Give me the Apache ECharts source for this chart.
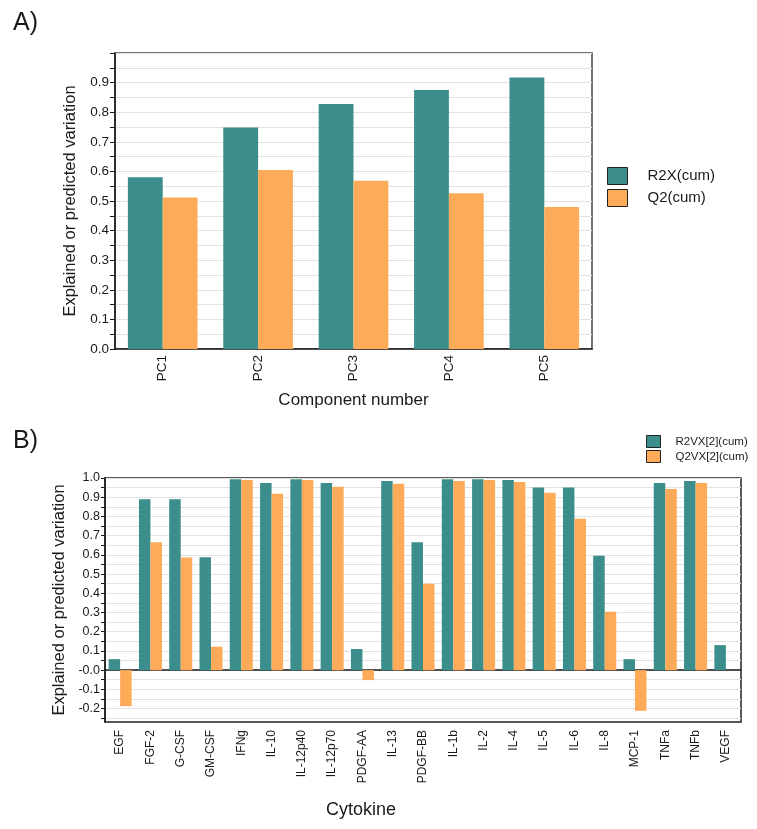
<!DOCTYPE html>
<html><head><meta charset="utf-8">
<script src="https://cdn.jsdelivr.net/npm/echarts@6/dist/echarts.min.js"></script>
<style>html,body{margin:0;padding:0;background:#fff}#c{width:757px;height:829px}</style>
</head><body><div id="c"></div>
<script>
// ---- Panel A data ----
const componentCategories = ['PC1', 'PC2', 'PC3', 'PC4', 'PC5'];
const r2xCum = [0.580, 0.748, 0.828, 0.875, 0.917];
const q2Cum = [0.512, 0.605, 0.568, 0.526, 0.480];
const yLabelsA = [0, 0.1, 0.2, 0.3, 0.4, 0.5, 0.6, 0.7, 0.8, 0.9];

// ---- Panel B data ----
const cytokineCategories = ['EGF', 'FGF-2', 'G-CSF', 'GM-CSF', 'IFNg', 'IL-10', 'IL-12p40', 'IL-12p70',
  'PDGF-AA', 'IL-13', 'PDGF-BB', 'IL-1b', 'IL-2', 'IL-4', 'IL-5', 'IL-6', 'IL-8', 'MCP-1', 'TNFa', 'TNFb', 'VEGF'];
const r2vxCum = [0.057, 0.890, 0.890, 0.588, 0.993, 0.974, 0.993, 0.974, 0.110, 0.984, 0.666,
  0.993, 0.993, 0.990, 0.951, 0.951, 0.595, 0.057, 0.974, 0.984, 0.130];
const q2vxCum = [-0.188, 0.666, 0.586, 0.122, 0.990, 0.918, 0.990, 0.955, -0.052, 0.970, 0.450,
  0.984, 0.990, 0.979, 0.923, 0.788, 0.304, -0.212, 0.943, 0.974, null];
const yLabelsB = [-0.2, -0.1, 0, 0.1, 0.2, 0.3, 0.4, 0.5, 0.6, 0.7, 0.8, 0.9, 1.0];
const yTicksB = [-0.25, -0.2, -0.15, -0.1, -0.05, 0, 0.05, 0.1, 0.15, 0.2, 0.25, 0.3, 0.35, 0.4, 0.45,
  0.5, 0.55, 0.6, 0.65, 0.7, 0.75, 0.8, 0.85, 0.9, 0.95, 1.0];

const FONT = '"Liberation Sans", Arial, sans-serif';
const TEAL = '#3b8e8b';
const ORANGE = '#fdab58';
const INK = '#1a1a1a';
const GRID = '#e2e2e2';

const chart = echarts.init(document.getElementById('c'), null, { renderer: 'canvas' });

const option = {
  animation: false,
  backgroundColor: '#fff',
  textStyle: { fontFamily: FONT, color: INK },
  title: [
    { text: 'A)', left: 8, top: 6, textStyle: { fontFamily: FONT, fontSize: 25, fontWeight: 'normal', color: INK } },
    { text: 'B)', left: 8, top: 424, textStyle: { fontFamily: FONT, fontSize: 25, fontWeight: 'normal', color: INK } }
  ],
  legend: [
    {
      data: ['R2X(cum)', 'Q2(cum)'], orient: 'vertical', left: 607, top: 167, padding: 0,
      itemWidth: 20, itemHeight: 17, itemGap: 4, icon: 'rect',
      itemStyle: { borderColor: '#222', borderWidth: 1 },
      textStyle: { fontFamily: FONT, fontSize: 15, color: INK, padding: [0, 0, 0, 15] }
    },
    {
      data: ['R2VX[2](cum)', 'Q2VX[2](cum)'], orient: 'vertical', left: 646, top: 435, padding: 0,
      itemWidth: 14, itemHeight: 12, itemGap: 2, icon: 'rect',
      itemStyle: { borderColor: '#222', borderWidth: 1 },
      textStyle: { fontFamily: FONT, fontSize: 11.5, color: INK, padding: [0, 0, 0, 10] }
    }
  ],
  grid: [
    { left: 115, top: 53, width: 477, height: 296, show: true, borderColor: '#444', borderWidth: 1.5 },
    { left: 105, top: 478, width: 636, height: 244, show: true, borderColor: '#222', borderWidth: 1.5 }
  ],
  xAxis: [
    {
      type: 'category', gridIndex: 0, data: componentCategories,
      axisLine: { lineStyle: { color: INK, width: 1.5 } },
      axisTick: { alignWithLabel: true, length: 5, lineStyle: { color: INK } },
      axisLabel: { rotate: 90, fontSize: 13.5, margin: 6, color: INK, fontFamily: FONT },
      name: 'Component number', nameLocation: 'middle', nameGap: 43,
      nameTextStyle: { fontSize: 17, color: INK, fontFamily: FONT }
    },
    {
      type: 'category', gridIndex: 1, data: cytokineCategories, position: 'top',
      axisLine: { onZero: true, lineStyle: { color: INK, width: 1.5 } },
      axisTick: { inside: true, alignWithLabel: true, length: 4, lineStyle: { color: INK } },
      axisLabel: { show: false }, splitLine: { show: false }
    },
    {
      type: 'category', gridIndex: 1, data: cytokineCategories, position: 'bottom',
      axisLine: { show: false, onZero: false },
      axisTick: { show: false },
      axisLabel: { rotate: 90, fontSize: 12, margin: 8, color: INK, fontFamily: FONT, interval: 0 },
      name: 'Cytokine', nameLocation: 'middle', nameGap: 79,
      nameTextStyle: { fontSize: 18, color: INK, fontFamily: FONT, padding: [0, 124, 0, 0] }
    }
  ],
  yAxis: [
    {
      type: 'value', gridIndex: 0, min: 0, max: 1, interval: 0.05,
      axisLine: { show: true, lineStyle: { color: INK, width: 1.5 } },
      axisTick: { show: true, length: 5, lineStyle: { color: INK } },
      axisLabel: { customValues: yLabelsA, formatter: v => v.toFixed(1), fontSize: 13.5, margin: 6, color: INK, fontFamily: FONT },
      splitLine: { show: true, lineStyle: { color: GRID, width: 1 } },
      name: 'Explained or predicted variation', nameLocation: 'middle', nameGap: 36,
      nameTextStyle: { fontSize: 16.5, color: INK, fontFamily: FONT }
    },
    {
      type: 'value', gridIndex: 1, min: -0.27, max: 1.0,
      axisLine: { show: true, onZero: false, lineStyle: { color: INK, width: 1.5 } },
      axisTick: { show: true, length: 4, customValues: yTicksB, lineStyle: { color: INK } },
      axisLabel: {
        customValues: yLabelsB, fontSize: 12.5, margin: 5, color: INK, fontFamily: FONT,
        formatter: v => (Math.abs(v) < 1e-9 ? '-0.0' : v.toFixed(1))
      },
      splitLine: { show: true, lineStyle: { color: GRID, width: 1 } },
      name: 'Explained or predicted variation', nameLocation: 'middle', nameGap: 32,
      nameTextStyle: { fontSize: 16.5, color: INK, fontFamily: FONT }
    }
  ],
  series: [
    { name: 'R2X(cum)', type: 'bar', xAxisIndex: 0, yAxisIndex: 0, data: r2xCum, itemStyle: { color: TEAL }, barGap: '0%', barCategoryGap: '27%' },
    { name: 'Q2(cum)', type: 'bar', xAxisIndex: 0, yAxisIndex: 0, data: q2Cum, itemStyle: { color: ORANGE }, barGap: '0%', barCategoryGap: '27%' },
    { name: 'R2VX[2](cum)', type: 'bar', xAxisIndex: 2, yAxisIndex: 1, data: r2vxCum, itemStyle: { color: TEAL }, barGap: '0%', barCategoryGap: '24%' },
    { name: 'Q2VX[2](cum)', type: 'bar', xAxisIndex: 2, yAxisIndex: 1, data: q2vxCum, itemStyle: { color: ORANGE }, barGap: '0%', barCategoryGap: '24%' }
  ]
};
chart.setOption(option);
</script>
</body></html>
